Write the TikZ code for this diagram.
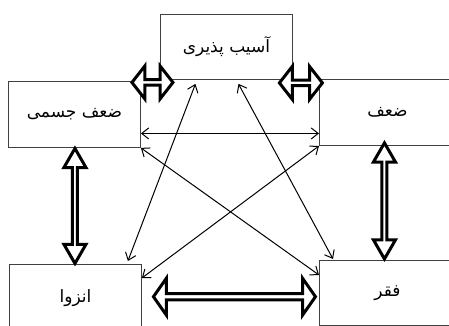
\documentclass[tikz,border=0pt]{standalone}
\usepackage{fontspec}
\newfontfamily\arabicfont[Script=Arabic]{DejaVu Sans}
\TeXXeTstate=1
\usetikzlibrary{shapes.arrows,arrows.meta,calc}
\begin{document}
\begin{tikzpicture}[x=1pt,y=-1pt,
    box/.style={draw=black!75,line width=0.9pt,minimum width=132pt,minimum height=66pt,inner sep=0pt,
      font=\arabicfont\fontsize{17}{19}\selectfont},
    fat/.style={double arrow,draw,line width=3pt,inner sep=0pt,fill=white},
    thin/.style={line width=1pt,{Straight Barb[length=7pt,width=11pt]}-{Straight Barb[length=7pt,width=11pt]}}]
    \useasboundingbox (0,0) rectangle (449,326);

    % boxes
    \node[box,minimum height=65pt,anchor=north west] (vul) at (160,14) {\beginR آسیب پذیری\endR};
    \node[box,anchor=north west] (body) at (8,81) {\beginR ضعف جسمی\endR};
    \node[box,minimum width=136pt,anchor=north west] (weak) at (319,79) {\beginR ضعف\endR};
    \node[box,minimum height=68pt,anchor=north west] (isol) at (9,264) {\beginR انزوا\endR};
    \node[box,minimum width=136pt,minimum height=65pt,anchor=north west] (pov) at (319,260) {\beginR فقر\endR};

    % thin links
    \coordinate (h) at ([yshift=-19pt]body.east);
    \draw[thin] (h) -- (h -| weak.west);
    \draw[thin] (body.south east) -- ([yshift=-15pt]pov.north west);
    \draw[thin] (weak.south west) -- ([yshift=-14pt]isol.north east);
    \draw[thin] ([xshift=-31pt,yshift=-4pt]vul.south) -- ([xshift=-14pt,yshift=3pt]isol.north east);
    \draw[thin] ([xshift=12pt,yshift=-4pt]vul.south) -- ([xshift=14pt,yshift=1pt]pov.north west);

    % fat links
    \node[fat,minimum height=41pt,minimum width=33pt,double arrow head extend=7.5pt,double arrow tip angle=104]
      (a1) at ($(vul.south west)!.5!(body.north east)+(2,2)$) {};
    \node[fat,minimum height=43pt,minimum width=33pt,double arrow head extend=7.5pt,double arrow tip angle=104]
      (a2) at ($(vul.south east)+(8,3)$) {};
    \node[fat,shape border rotate=90,minimum height=115pt,minimum width=22pt,double arrow head extend=5pt,double arrow tip angle=60]
      (a3) at ($(body.south)!.5!(isol.north)$) {};
    \node[fat,shape border rotate=90,minimum height=116pt,minimum width=22pt,double arrow head extend=5pt,double arrow tip angle=60]
      (a4) at ($(weak.south)!.5!(pov.north)+(-3,-2)$) {};
    \node[fat,minimum height=162pt,minimum width=37pt,double arrow head extend=7.5pt,double arrow tip angle=110]
      (a5) at ($(isol.east)!.5!(pov.west)+(4,1)$) {};
\end{tikzpicture}
\end{document}
